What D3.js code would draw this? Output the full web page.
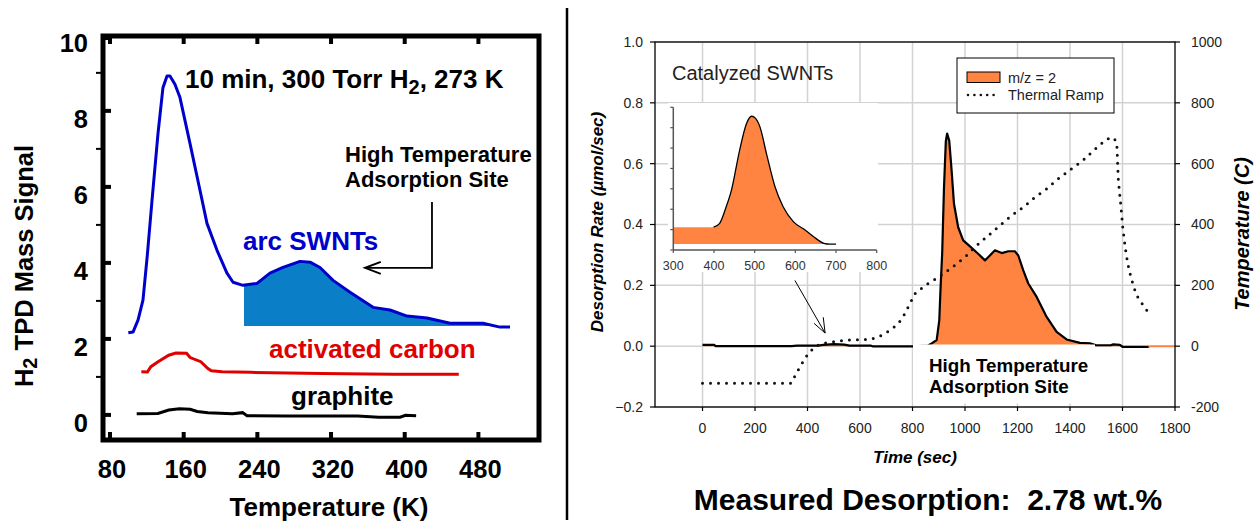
<!DOCTYPE html>
<html>
<head>
<meta charset="utf-8">
<script src="https://cdn.jsdelivr.net/npm/d3@7"></script>
<style>
  body { margin: 0; background: #fff; }
  svg { display: block; font-family: "Liberation Sans", Arial, sans-serif; }
</style>
</head>
<body>
<svg id="chart" width="1254" height="523"></svg>
<script>
// ---- left panel: H2 TPD (temperature K, mass signal)
const leftXTicks = [80, 160, 240, 320, 400, 480];
const leftYTicks = [0, 2, 4, 6, 8, 10];
const leftYMinor = [1, 3, 5, 7, 9];

const arcSWNTs = [
  [99.9, 2.16], [105.0, 2.18], [110.5, 2.5], [115.8, 3.02], [120.5, 4.2], [125.6, 5.64],
  [132.1, 7.40], [137.5, 8.61], [141.9, 8.92], [145.1, 8.92], [150.5, 8.7], [156.0, 8.35],
  [166.9, 7.14], [177.7, 5.91], [185.3, 5.04], [196.2, 4.33], [207.0, 3.73], [213.6, 3.49],
  [224.4, 3.41], [239.6, 3.46], [253.7, 3.73], [267.8, 3.88], [286.3, 4.04], [297.2, 4.02],
  [308.0, 3.88], [322.2, 3.54], [340.6, 3.23], [365.6, 2.83], [384.0, 2.76], [402.5, 2.60],
  [424.2, 2.55], [449.2, 2.41], [485.0, 2.41], [503.4, 2.31], [514.3, 2.31]
];
const arcFillFrom = 225.5;   // K, start of the shaded high temperature site
const arcFillBase = 2.34;

const activatedCarbon = [
  [114, 1.135], [120.6, 1.13], [124.4, 1.27], [132.2, 1.40], [143.8, 1.57], [151.5, 1.63],
  [163.1, 1.62], [167, 1.51], [178.6, 1.40], [186.3, 1.22], [190.1, 1.16], [201.7, 1.135],
  [232.7, 1.12], [310, 1.09], [387, 1.07], [458.7, 1.07]
];

const graphite = [
  [109, 0.03], [132, 0.04], [143.8, 0.13], [155.4, 0.16], [167, 0.15], [174.7, 0.09],
  [186.3, 0.06], [213, 0.03], [224, 0.06], [228.8, -0.02], [271, -0.03], [348.6, -0.03],
  [371.8, -0.06], [395, -0.06], [400.8, -0.01], [412.4, -0.02]
];

// ---- right panel: catalyzed SWNTs desorption
const timeTicks = [0, 200, 400, 600, 800, 1000, 1200, 1400, 1600, 1800];
const rateTicks = [-0.2, 0, 0.2, 0.4, 0.6, 0.8, 1.0];
const tempTicks = [-200, 0, 200, 400, 600, 800, 1000];
const insetTimeTicks = [300, 400, 500, 600, 700, 800];
const insetYTicks = [0, 1, 2, 3, 4, 5, 6, 7];

const desorption = [
  [0, 0.004], [45, 0.004], [50, 0.0], [340, 0.0], [360, 0.002], [440, 0.002], [460, 0.004],
  [500, 0.007], [540, 0.005], [560, 0.002], [640, 0.002], [650, -0.001], [800, -0.001],
  [860, 0.002], [873, 0.009], [892, 0.02], [902, 0.085], [907, 0.194], [913, 0.304],
  [920, 0.522], [927, 0.675], [932, 0.699], [940, 0.675], [949, 0.577], [958, 0.468],
  [974, 0.391], [993, 0.348], [1019, 0.328], [1050, 0.304], [1076, 0.282], [1089, 0.293],
  [1114, 0.315], [1140, 0.306], [1165, 0.312], [1190, 0.312], [1203, 0.298], [1222, 0.249],
  [1241, 0.206], [1273, 0.162], [1311, 0.096], [1349, 0.047], [1387, 0.022], [1438, 0.011],
  [1476, 0.009], [1500, 0.003], [1555, 0.003], [1565, 0.006], [1590, 0.004], [1600, -0.002],
  [1700, -0.002], [1710, 0.0], [1800, 0.0]
];
const orangeTailFrom = 1700;

const thermalRamp = [
  [0, -122], [338, -122], [354, -95], [379, -57], [403, -24], [429, -2], [453, 9], [498, 14],
  [549, 20], [638, 22], [676, 33], [714, 52], [746, 74], [771, 107], [790, 140], [810, 173],
  [848, 200], [879, 216], [917, 238], [955, 262], [1000, 293], [1038, 326], [1089, 364],
  [1133, 397], [1178, 430], [1222, 457], [1267, 490], [1311, 517], [1355, 550], [1406, 583],
  [1451, 612], [1502, 653], [1540, 681], [1565, 686], [1578, 670], [1580, 632], [1582, 588],
  [1584, 550], [1588, 511], [1593, 468], [1597, 430], [1601, 391], [1607, 348], [1613, 309],
  [1620, 271], [1632, 227], [1645, 189], [1663, 151], [1686, 129], [1698, 109]
];

// inset zoom of the 300-800 s region (arbitrary units)
const insetSignal = [
  [300, 1.11], [399, 1.12], [414, 1.31], [430, 2.12], [443, 2.94], [463, 4.89], [480, 6.20],
  [492, 6.56], [500, 6.50], [513, 6.04], [529, 4.73], [550, 3.10], [570, 2.12], [595, 1.39],
  [624, 0.98], [645, 0.65], [670, 0.33], [685, 0.29], [700, 0.29]
];
const insetBase = 0.29;
const insetOutlineFrom = 399;

const orange = '#ff8442';
const svg = d3.select('#chart');

// ================= left panel =================
const xL = d3.scaleLinear().domain([72.4, 545.8]).range([103, 539]);
const yL = d3.scaleLinear().domain([-0.66, 9.97]).range([440, 36]);
const left = svg.append('g').attr('class', 'left');

const lineL = d3.line(d => xL(d[0]), d => yL(d[1]));

left.append('path')
  .datum(arcSWNTs.filter(d => d[0] >= arcFillFrom - 2))
  .attr('fill', '#0a7fc7')
  .attr('d', d3.area(d => xL(Math.max(d[0], arcFillFrom)), yL(arcFillBase), d => yL(d[1])));

left.append('path').datum(arcSWNTs)
  .attr('fill', 'none').attr('stroke', '#0000cc').attr('stroke-width', 3)
  .attr('stroke-linejoin', 'round').attr('d', lineL);
left.append('path').datum(activatedCarbon)
  .attr('fill', 'none').attr('stroke', '#e00000').attr('stroke-width', 3)
  .attr('d', lineL);
left.append('path').datum(graphite)
  .attr('fill', 'none').attr('stroke', '#000').attr('stroke-width', 3)
  .attr('d', lineL);

// frame + ticks
left.append('rect')
  .attr('x', 103).attr('y', 36).attr('width', 436).attr('height', 404)
  .attr('fill', 'none').attr('stroke', '#000').attr('stroke-width', 5);

left.selectAll('.ytick').data(leftYTicks).enter().append('line')
  .attr('x1', 103).attr('x2', 111)
  .attr('y1', d => Math.max(yL(d), 38)).attr('y2', d => Math.max(yL(d), 38))
  .attr('stroke', '#000').attr('stroke-width', 4);
left.selectAll('.yminor').data(leftYMinor).enter().append('line')
  .attr('x1', 96).attr('x2', 103)
  .attr('y1', d => yL(d)).attr('y2', d => yL(d))
  .attr('stroke', '#000').attr('stroke-width', 2);
left.selectAll('.xtickb').data(leftXTicks).enter().append('line')
  .attr('x1', d => xL(d)).attr('x2', d => xL(d))
  .attr('y1', 440).attr('y2', 432)
  .attr('stroke', '#000').attr('stroke-width', 4);
left.selectAll('.xtickt').data(leftXTicks).enter().append('line')
  .attr('x1', d => xL(d)).attr('x2', d => xL(d))
  .attr('y1', 36).attr('y2', 44)
  .attr('stroke', '#000').attr('stroke-width', 4);

left.selectAll('.ylab').data(leftYTicks).enter().append('text')
  .attr('x', 88).attr('y', d => yL(d) + 17)
  .attr('text-anchor', 'end').attr('font-size', 25.5).attr('font-weight', 'bold')
  .text(d => d);
left.selectAll('.xlab').data(leftXTicks).enter().append('text')
  .attr('x', d => xL(d) + 2).attr('y', 478)
  .attr('text-anchor', 'middle').attr('font-size', 25.5).attr('font-weight', 'bold')
  .text(d => d);

left.append('text')
  .attr('x', 329).attr('y', 516).attr('text-anchor', 'middle')
  .attr('font-size', 26).attr('font-weight', 'bold')
  .text('Temperature (K)');

const yTitle = left.append('text')
  .attr('transform', 'translate(33,266) rotate(-90)')
  .attr('text-anchor', 'middle').attr('font-size', 25.5).attr('font-weight', 'bold');
yTitle.append('tspan').text('H');
yTitle.append('tspan').attr('font-size', 20).attr('dy', 4).text('2');
yTitle.append('tspan').attr('dy', -4).text(' TPD Mass Signal');

const cond = left.append('text')
  .attr('x', 185).attr('y', 88).attr('font-size', 26).attr('font-weight', 'bold');
cond.append('tspan').text('10 min, 300 Torr H');
cond.append('tspan').attr('font-size', 20).attr('dy', 6).text('2');
cond.append('tspan').attr('dy', -6).text(', 273 K');

left.append('text').attr('x', 243).attr('y', 250)
  .attr('font-size', 26).attr('font-weight', 'bold').attr('fill', '#0000cc')
  .text('arc SWNTs');
left.append('text').attr('x', 269).attr('y', 358)
  .attr('font-size', 26).attr('font-weight', 'bold').attr('fill', '#e00000')
  .text('activated carbon');
left.append('text').attr('x', 291).attr('y', 405)
  .attr('font-size', 26).attr('font-weight', 'bold').attr('fill', '#000')
  .text('graphite');

left.append('text').attr('x', 345).attr('y', 162)
  .attr('font-size', 22).attr('font-weight', 'bold').text('High Temperature');
left.append('text').attr('x', 345).attr('y', 187)
  .attr('font-size', 22).attr('font-weight', 'bold').text('Adsorption Site');

// arrow: from under the label down, then left to the shaded peak
left.append('path')
  .attr('d', `M${xL(429.6)},${yL(5.6)}V${yL(3.87)}H${xL(357)}`)
  .attr('fill', 'none').attr('stroke', '#000').attr('stroke-width', 1.8);
left.append('path')
  .attr('d', `M${xL(374)},${yL(3.87) - 6}L${xL(357)},${yL(3.87)}L${xL(374)},${yL(3.87) + 6}`)
  .attr('fill', 'none').attr('stroke', '#000').attr('stroke-width', 2);

// divider
svg.append('line').attr('x1', 567).attr('x2', 567).attr('y1', 8).attr('y2', 520)
  .attr('stroke', '#000').attr('stroke-width', 2.5);

// ================= right panel =================
const xR = d3.scaleLinear().domain([-181, 1800]).range([655, 1175]);
const yR = d3.scaleLinear().domain([-0.2, 1.0]).range([407, 42]);
const yT = d3.scaleLinear().domain([-200, 1000]).range([407, 42]);
const right = svg.append('g').attr('class', 'right');
const [px0, px1] = xR.range();
const [py1, py0] = yR.range();

// grid
right.selectAll('.vgrid').data(timeTicks.filter(d => d < 1800)).enter().append('line')
  .attr('x1', d => xR(d)).attr('x2', d => xR(d)).attr('y1', py0).attr('y2', py1)
  .attr('stroke', '#d2d2d2').attr('stroke-width', 1.5);
right.selectAll('.hgrid').data(rateTicks).enter().append('line')
  .attr('x1', px0).attr('x2', px1).attr('y1', d => yR(d)).attr('y2', d => yR(d))
  .attr('stroke', '#d2d2d2').attr('stroke-width', 1.5);

// desorption signal
right.append('path').datum(desorption)
  .attr('fill', orange)
  .attr('d', d3.area(d => xR(d[0]), yR(0), d => yR(d[1])));
right.append('path').datum(desorption.filter(d => d[0] <= orangeTailFrom))
  .attr('fill', 'none').attr('stroke', '#000').attr('stroke-width', 2.2)
  .attr('stroke-linejoin', 'round')
  .attr('d', d3.line(d => xR(d[0]), d => yR(d[1])));
right.append('path').datum(desorption.filter(d => d[0] >= orangeTailFrom))
  .attr('fill', 'none').attr('stroke', orange).attr('stroke-width', 2)
  .attr('d', d3.line(d => xR(d[0]), d => yR(d[1])));

// thermal ramp, dotted
right.append('path').datum(thermalRamp)
  .attr('fill', 'none').attr('stroke', '#111').attr('stroke-width', 3)
  .attr('stroke-linecap', 'round').attr('stroke-dasharray', '0 8')
  .attr('d', d3.line(d => xR(d[0]), d => yT(d[1])));

// label box
right.append('rect').attr('x', 913).attr('y', 344.5).attr('width', 182).attr('height', 59)
  .attr('fill', '#fff');
right.append('text').attr('x', 929).attr('y', 372)
  .attr('font-size', 18.8).attr('font-weight', 'bold').text('High Temperature');
right.append('text').attr('x', 929).attr('y', 393)
  .attr('font-size', 18.8).attr('font-weight', 'bold').text('Adsorption Site');

// inset
const xI = d3.scaleLinear().domain([300, 800]).range([673.3, 876.7]);
const yI = d3.scaleLinear().domain([0, 7]).range([250, 107.3]);
const inset = right.append('g').attr('class', 'inset');
inset.append('rect').attr('x', 668).attr('y', 103).attr('width', 210).attr('height', 169)
  .attr('fill', '#fff');
inset.append('path').datum(insetSignal)
  .attr('fill', orange)
  .attr('d', d3.area(d => xI(d[0]), yI(insetBase), d => yI(d[1])).curve(d3.curveMonotoneX));
inset.append('path').datum(insetSignal.filter(d => d[0] >= insetOutlineFrom))
  .attr('fill', 'none').attr('stroke', '#000').attr('stroke-width', 1.3)
  .attr('d', d3.line(d => xI(d[0]), d => yI(d[1])).curve(d3.curveMonotoneX));
inset.append('line').attr('x1', xI(300)).attr('x2', xI(300)).attr('y1', yI(7)).attr('y2', yI(0))
  .attr('stroke', '#555').attr('stroke-width', 1.5);
inset.append('line').attr('x1', xI(300)).attr('x2', xI(800)).attr('y1', yI(0)).attr('y2', yI(0))
  .attr('stroke', '#555').attr('stroke-width', 1.5);
inset.selectAll('.iyt').data(insetYTicks).enter().append('line')
  .attr('x1', xI(300) - 3).attr('x2', xI(300)).attr('y1', d => yI(d)).attr('y2', d => yI(d))
  .attr('stroke', '#555').attr('stroke-width', 1.2);
inset.selectAll('.ixt').data(insetTimeTicks).enter().append('line')
  .attr('x1', d => xI(d)).attr('x2', d => xI(d)).attr('y1', yI(0)).attr('y2', yI(0) + 3)
  .attr('stroke', '#555').attr('stroke-width', 1.2);
inset.selectAll('.ixl').data(insetTimeTicks).enter().append('text')
  .attr('x', d => xI(d)).attr('y', 270).attr('text-anchor', 'middle')
  .attr('font-size', 12.5).attr('fill', '#333').text(d => d);

// arrow from inset to the small low temperature peak
right.append('line')
  .attr('x1', xR(352)).attr('y1', yR(0.216)).attr('x2', xR(467)).attr('y2', yR(0.043))
  .attr('stroke', '#000').attr('stroke-width', 1);
right.append('path')
  .attr('d', `M${xR(425)},${yR(0.075)}L${xR(467)},${yR(0.043)}L${xR(460)},${yR(0.095)}`)
  .attr('fill', 'none').attr('stroke', '#000').attr('stroke-width', 1);

right.append('text').attr('x', 672).attr('y', 80).attr('font-size', 20).attr('fill', '#222')
  .text('Catalyzed SWNTs');

// legend
const legend = right.append('g').attr('class', 'legend');
legend.append('rect').attr('x', 957).attr('y', 58).attr('width', 157).attr('height', 55)
  .attr('fill', '#fff').attr('stroke', '#000').attr('stroke-width', 1);
legend.append('rect').attr('x', 967).attr('y', 72).attr('width', 33).attr('height', 10.5)
  .attr('fill', orange).attr('stroke', '#000').attr('stroke-width', 1);
legend.append('text').attr('x', 1008).attr('y', 83).attr('font-size', 14.5).attr('fill', '#222')
  .text('m/z = 2');
legend.append('line').attr('x1', 968).attr('x2', 1000).attr('y1', 95).attr('y2', 95)
  .attr('stroke', '#111').attr('stroke-width', 2.6).attr('stroke-linecap', 'round')
  .attr('stroke-dasharray', '0 6.4');
legend.append('text').attr('x', 1008).attr('y', 100).attr('font-size', 14.5).attr('fill', '#222')
  .text('Thermal Ramp');

// axes box
right.append('rect').attr('x', px0).attr('y', py0).attr('width', px1 - px0).attr('height', py1 - py0)
  .attr('fill', 'none').attr('stroke', '#000').attr('stroke-width', 1.3);

right.selectAll('.lyt').data(rateTicks).enter().append('line')
  .attr('x1', px0 - 5).attr('x2', px0).attr('y1', d => yR(d)).attr('y2', d => yR(d))
  .attr('stroke', '#000').attr('stroke-width', 1.2);
right.selectAll('.lyl').data(rateTicks).enter().append('text')
  .attr('x', 643).attr('y', d => yR(d)).attr('dy', '0.35em').attr('text-anchor', 'end')
  .attr('font-size', 14).attr('fill', '#222').text(d3.format('.1f'));

right.selectAll('.ryt').data(tempTicks).enter().append('line')
  .attr('x1', px1).attr('x2', px1 + 5).attr('y1', d => yT(d)).attr('y2', d => yT(d))
  .attr('stroke', '#000').attr('stroke-width', 1.2);
right.selectAll('.ryl').data(tempTicks).enter().append('text')
  .attr('x', 1191).attr('y', d => yT(d)).attr('dy', '0.35em')
  .attr('font-size', 14).attr('fill', '#222').text(d => d);

right.selectAll('.xt').data(timeTicks).enter().append('line')
  .attr('x1', d => xR(d)).attr('x2', d => xR(d)).attr('y1', py1).attr('y2', py1 + 4)
  .attr('stroke', '#000').attr('stroke-width', 1.2);
right.selectAll('.xl').data(timeTicks).enter().append('text')
  .attr('x', d => xR(d)).attr('y', 433).attr('text-anchor', 'middle')
  .attr('font-size', 14).attr('fill', '#222').text(d => d);

right.append('text').attr('x', 915).attr('y', 463).attr('text-anchor', 'middle')
  .attr('font-size', 17).attr('font-weight', 'bold').attr('font-style', 'italic')
  .text('Time (sec)');
right.append('text').attr('transform', 'translate(603,222) rotate(-90)')
  .attr('text-anchor', 'middle')
  .attr('font-size', 17).attr('font-weight', 'bold').attr('font-style', 'italic')
  .text('Desorption Rate (µmol/sec)');
right.append('text').attr('transform', 'translate(1249,234) rotate(-90)')
  .attr('text-anchor', 'middle')
  .attr('font-size', 20).attr('font-weight', 'bold').attr('font-style', 'italic')
  .text('Temperature (C)');

right.append('text').attr('x', 928).attr('y', 510).attr('text-anchor', 'middle')
  .attr('font-size', 30).attr('font-weight', 'bold').style('white-space', 'pre')
  .text('Measured Desorption:  2.78 wt.%');
</script>
</body>
</html>
